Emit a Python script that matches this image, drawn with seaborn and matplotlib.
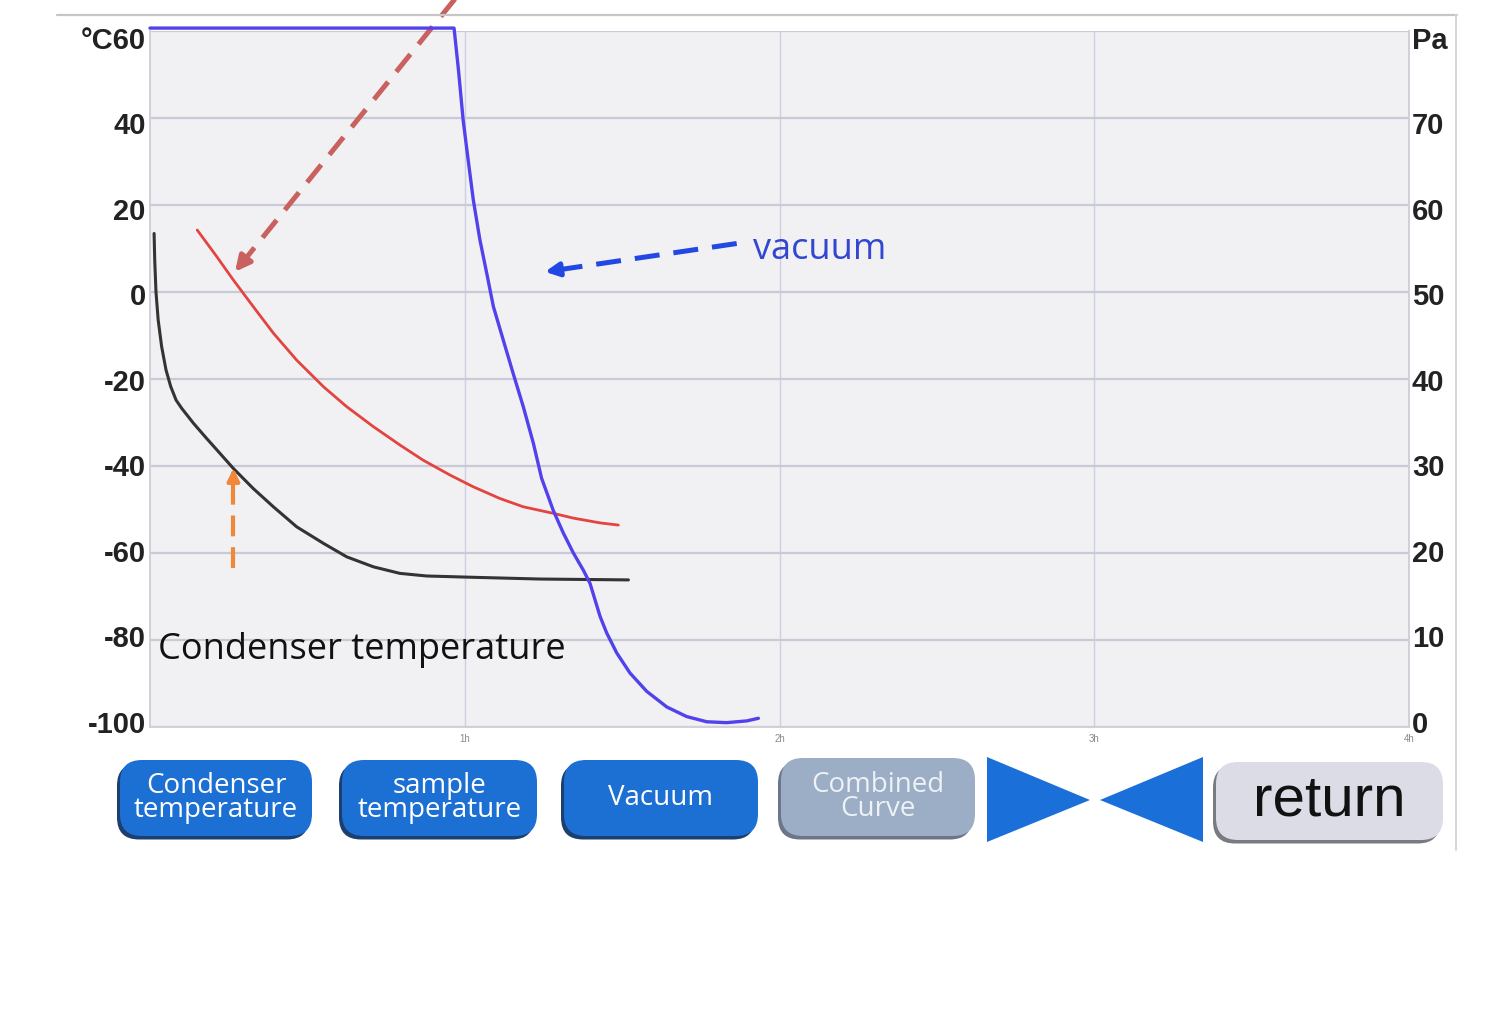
import matplotlib
matplotlib.use("Agg")
import matplotlib.pyplot as plt
import seaborn as sns
import pandas as pd
from matplotlib.patches import FancyBboxPatch, Polygon
from matplotlib.lines import Line2D
from matplotlib.transforms import ScaledTranslation

# ---------------- data ----------------
cond_hours = [0.013, 0.015, 0.019, 0.026, 0.037, 0.051, 0.066, 0.083, 0.101,
              0.138, 0.180, 0.222, 0.265, 0.328, 0.392, 0.466, 0.551, 0.625,
              0.710, 0.794, 0.879, 1.027, 1.239, 1.520]
cond_temp = [13.4, 7.3, 0.0, -6.5, -12.6, -18.0, -21.8, -24.9, -26.8,
             -30.2, -33.7, -37.1, -40.6, -45.2, -49.4, -54.0, -57.8, -60.9,
             -63.2, -64.7, -65.3, -65.6, -66.0, -66.2]

sample_hours = [0.150, 0.212, 0.265, 0.328, 0.392, 0.466, 0.551, 0.625, 0.710,
                0.794, 0.868, 0.953, 1.027, 1.112, 1.186, 1.281, 1.345, 1.430, 1.488]
sample_temp = [14.2, 8.1, 2.7, -3.4, -9.5, -15.7, -21.8, -26.4, -31.0,
               -35.2, -38.7, -42.1, -44.8, -47.5, -49.4, -50.9, -52.0, -53.1, -53.6]

vac_hours = [0.0, 0.966, 0.980, 0.995, 1.011, 1.027, 1.048, 1.070, 1.091, 1.122,
             1.154, 1.186, 1.218, 1.244, 1.281, 1.313, 1.345, 1.377, 1.398, 1.414,
             1.430, 1.451, 1.483, 1.525, 1.578, 1.642, 1.705, 1.769, 1.832, 1.896, 1.933]
vac_pa = [80.3, 80.3, 75.5, 69.7, 65.1, 60.6, 56.0, 52.1, 48.3, 44.5,
          40.6, 36.8, 32.6, 28.6, 24.9, 22.3, 20.0, 18.0, 16.5, 14.6,
          12.7, 10.8, 8.5, 6.2, 4.1, 2.3, 1.2, 0.6, 0.5, 0.7, 1.0]

temp_ticks = [60, 40, 20, 0, -20, -40, -60, -80, -100]
temp_labels = ["°C60", "40", "20", "0", "-20", "-40", "-60", "-80", "-100"]
pa_ticks = [80, 70, 60, 50, 40, 30, 20, 10, 0]
pa_labels = ["Pa", "70", "60", "50", "40", "30", "20", "10", "0"]
hour_ticks = [1, 2, 3, 4]
hour_labels = ["1h", "2h", "3h", "4h"]

button_labels = ["Condenser\ntemperature", "sample\ntemperature", "Vacuum",
                 "Combined\nCurve", "return"]

# ---------------- style ----------------
sns.set_style("white")
plt.rcParams['font.family'] = ['Liberation Sans', 'DejaVu Sans']

W, H = 1500, 1014
fig = plt.figure(figsize=(W / 100, H / 100), dpi=100)
fig.patch.set_facecolor('white')

ax = fig.add_axes([150 / W, 1 - 727 / H, (1409 - 150) / W, (727 - 30.7) / H])
ax.set_facecolor('#f1f1f4')
ax.set_xlim(0, 4)
ax.set_ylim(-100, 60)

ax2 = ax.twinx()
ax2.set_ylim(0, 80)
ax2.patch.set_visible(False)

# grid
ax.set_axisbelow(True)
ax.grid(axis='y', color='#c8cad6', lw=1.6)
ax.grid(axis='x', color='#cdd0e0', lw=1.0)

ax.spines['top'].set_visible(False)
for sp in ['left', 'bottom', 'right']:
    ax.spines[sp].set_color('#cfd0d8')
    ax.spines[sp].set_linewidth(1.4)
for sp in ax2.spines.values():
    sp.set_visible(False)

# ---------------- curves ----------------
df_c = pd.DataFrame({'h': cond_hours, 'v': cond_temp})
df_s = pd.DataFrame({'h': sample_hours, 'v': sample_temp})
df_v = pd.DataFrame({'h': vac_hours, 'v': vac_pa})

sns.lineplot(data=df_c, x='h', y='v', ax=ax, color='#333333', lw=2.2,
             estimator=None, sort=False)
sns.lineplot(data=df_s, x='h', y='v', ax=ax, color='#e4443f', lw=2.0,
             estimator=None, sort=False)
sns.lineplot(data=df_v, x='h', y='v', ax=ax2, color='#5242ec', lw=2.4,
             estimator=None, sort=False, clip_on=False)
for a in (ax, ax2):
    a.set_xlabel('')
    a.set_ylabel('')

# ---------------- ticks ----------------
ax.set_yticks(temp_ticks)
ax.set_yticklabels(temp_labels, fontsize=21, fontweight='bold', color='#222222')
ax.tick_params(axis='y', length=0, pad=3)
ax2.set_yticks(pa_ticks)
ax2.set_yticklabels(pa_labels, fontsize=21, fontweight='bold', color='#222222')
ax2.tick_params(axis='y', length=0, pad=2)
# labels on the device screen sit on a slightly tighter spacing than the grid
for labs in (ax.get_yticklabels(), ax2.get_yticklabels()):
    for i, lab in enumerate(labs):
        shift = (7.3 - i * 1.54) / 100
        lab.set_transform(lab.get_transform() +
                          ScaledTranslation(0, -shift, fig.dpi_scale_trans))

ax.set_xticks(hour_ticks)
ax.set_xticklabels(hour_labels, fontsize=7, color='#8a8a8a')
ax.tick_params(axis='x', length=0, pad=5)


# ---------------- annotations ----------------
def dashed_arrow(a, tail, tip, color, lw, dashes, hl, hw):
    fx = tip[0] + (tail[0] - tip[0]) * 0.08
    fy = tip[1] + (tail[1] - tip[1]) * 0.08
    a.plot([tail[0], fx], [tail[1], fy], color=color, lw=lw,
           dashes=dashes, solid_capstyle='butt', clip_on=False)
    a.annotate('', xy=tip, xytext=(fx, fy),
               arrowprops=dict(arrowstyle=f'-|>,head_length={hl},head_width={hw}',
                               color=color, lw=lw, shrinkA=0, shrinkB=0),
               annotation_clip=False)


dashed_arrow(ax, (0.979, 68.2), (0.270, 4.6), '#c9615f', 3.6, (4.5, 2.6), 0.9, 0.45)
dashed_arrow(ax, (1.864, 11.1), (1.255, 4.6), '#2148e2', 3.6, (5.0, 2.8), 0.8, 0.4)
dashed_arrow(ax, (0.265, -63.5), (0.265, -40.6), '#f0883a', 3.0, (5.0, 2.6), 0.7, 0.35)

osans = ['Open Sans', 'DejaVu Sans']
ax.text(1.916, 9.6, 'vacuum', fontsize=26, color='#3346d0', family=osans,
        ha='left', va='center')
ax.text(0.025, -82.3, 'Condenser temperature', fontsize=26, color='#111111',
        family=osans, ha='left', va='center')

# ---------------- frame lines ----------------
fig.add_artist(Line2D([57 / W, 1457 / W], [1 - 15 / H, 1 - 15 / H], color='#c6c6c6', lw=1.6))
fig.add_artist(Line2D([1456 / W, 1456 / W], [1 - 15 / H, 1 - 850 / H], color='#d6d6da', lw=1.4))

# ---------------- buttons ----------------
tr = fig.dpi_scale_trans


def button(x0, y0, x1, y1, face, shadow, label, tcolor, size, family, weight='normal'):
    w = (x1 - x0) / 100
    h = (y1 - y0) / 100
    left = x0 / 100
    bottom = (H - y1) / 100
    sh = FancyBboxPatch((left - 0.03, bottom - 0.035), w, h,
                        boxstyle='round,pad=0,rounding_size=0.22',
                        transform=tr, facecolor=shadow, edgecolor='none')
    fig.add_artist(sh)
    bt = FancyBboxPatch((left, bottom), w, h,
                        boxstyle='round,pad=0,rounding_size=0.22',
                        transform=tr, facecolor=face, edgecolor='none')
    fig.add_artist(bt)
    fig.text((x0 + x1) / 200, (H - (y0 + y1) / 2) / 100, label, transform=tr,
             ha='center', va='center', color=tcolor, fontsize=size,
             family=family, linespacing=0.85, fontweight=weight)


button(120, 760, 312, 836, '#1c70d4', '#1d3f70', button_labels[0], 'white', 20, osans)
button(342, 760, 537, 836, '#1c70d4', '#1d3f70', button_labels[1], 'white', 20, osans)
button(564, 760, 758, 836, '#1c70d4', '#1d3f70', button_labels[2], 'white', 20, osans)
button(781, 758, 975, 836, '#9cadc6', '#6b7789', button_labels[3], '#eef1f6', 20, osans)
button(1216, 762, 1443, 840, '#dcdce6', '#7a7a82', button_labels[4], '#111111', 42,
       ['Liberation Sans', 'DejaVu Sans'])

tri_color = '#1b6fd8'
fig.add_artist(Polygon([(987 / 100, (H - 757) / 100), (987 / 100, (H - 842) / 100),
                        (1090 / 100, (H - 800) / 100)], closed=True,
                       transform=tr, facecolor=tri_color, edgecolor='none'))
fig.add_artist(Polygon([(1203 / 100, (H - 757) / 100), (1203 / 100, (H - 842) / 100),
                        (1100 / 100, (H - 800) / 100)], closed=True,
                       transform=tr, facecolor=tri_color, edgecolor='none'))

fig.savefig('out.png', dpi=100, facecolor='white')
